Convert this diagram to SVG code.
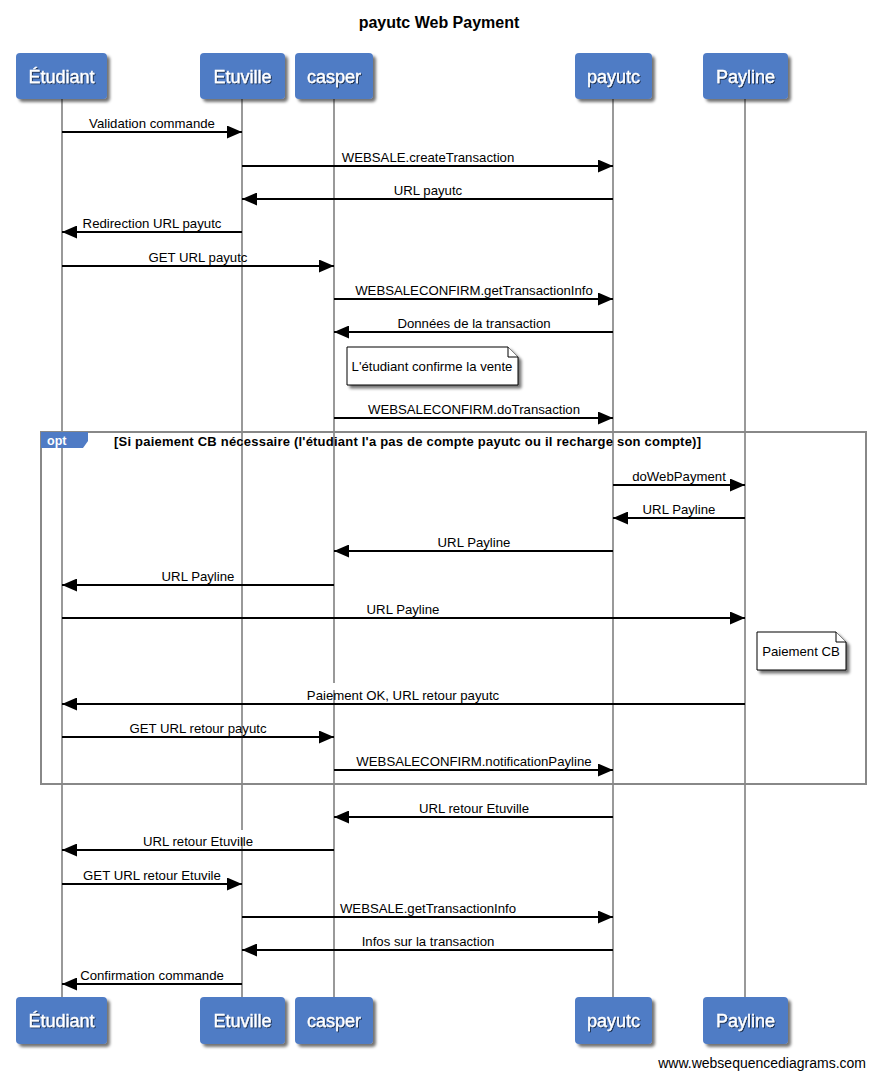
<svg xmlns="http://www.w3.org/2000/svg" width="877" height="1079" viewBox="0 0 877 1079">
<defs>
<filter id="sh" x="-20%" y="-20%" width="150%" height="150%">
<feGaussianBlur in="SourceAlpha" stdDeviation="1.6"/>
<feOffset dx="3" dy="3" result="b"/>
<feComponentTransfer><feFuncA type="linear" slope="0.55"/></feComponentTransfer>
<feMerge><feMergeNode/><feMergeNode in="SourceGraphic"/></feMerge>
</filter>
<filter id="tsh" x="-10%" y="-20%" width="130%" height="160%">
<feGaussianBlur in="SourceAlpha" stdDeviation="0.6"/>
<feOffset dx="1" dy="1"/>
<feComponentTransfer><feFuncA type="linear" slope="0.6"/></feComponentTransfer>
<feMerge><feMergeNode/><feMergeNode in="SourceGraphic"/></feMerge>
</filter>
<marker id="ah" markerWidth="15" markerHeight="13" refX="15" refY="6.5" orient="auto" markerUnits="userSpaceOnUse">
<path d="M0,0 L15,6.5 L0,13 Z" fill="#000"/>
</marker>
</defs>
<style>
.box{fill:#4f7bc5;}
.an{font-family:"Liberation Sans",Arial,sans-serif;font-size:18px;fill:#fff;text-anchor:middle;stroke:#fff;stroke-width:0.3;}
.life{stroke:#999;stroke-width:2;fill:none;}
.msg{stroke:#000;stroke-width:2;fill:none;marker-end:url(#ah);}
.lbl{font-family:"Liberation Sans",Arial,sans-serif;font-size:13.2px;fill:#000;text-anchor:middle;}
.note{fill:#fff;stroke:#000;stroke-width:1;}
.frame{fill:none;stroke:#888;stroke-width:2;}
</style>
<rect width="877" height="1079" fill="#fff"/>
<text x="439" y="28" font-family="Liberation Sans,Arial,sans-serif" font-size="16" font-weight="bold" text-anchor="middle">payutc Web Payment</text>

<g id="lifelines">
<line class="life" x1="62" y1="99" x2="62" y2="997"/>
<line class="life" x1="242" y1="99" x2="242" y2="997"/>
<line class="life" x1="334" y1="99" x2="334" y2="997"/>
<line class="life" x1="613" y1="99" x2="613" y2="997"/>
<line class="life" x1="745" y1="99" x2="745" y2="997"/>
</g>

<g id="opt">
<rect class="frame" x="41" y="432" width="825" height="352"/>
<path d="M41,432 H88 V441 L83,448 H41 Z" fill="#4f7bc5"/>
<text x="47" y="444.5" font-family="Liberation Sans,Arial,sans-serif" font-size="12.5" font-weight="bold" fill="#fff">opt</text>
<text x="114" y="446" font-family="Liberation Sans,Arial,sans-serif" font-size="13" font-weight="bold" textLength="587" lengthAdjust="spacing">[Si paiement CB nécessaire (l'étudiant l'a pas de compte payutc ou il recharge son compte)]</text>
</g>

<g id="connectors">
<line class="msg" x1="62" y1="132" x2="242" y2="132"/>
<text class="lbl" x="152" y="128">Validation commande</text>
<line class="msg" x1="242" y1="166" x2="613" y2="166"/>
<text class="lbl" x="428" y="162">WEBSALE.createTransaction</text>
<line class="msg" x1="613" y1="199" x2="242" y2="199"/>
<text class="lbl" x="428" y="195">URL payutc</text>
<line class="msg" x1="242" y1="232" x2="62" y2="232"/>
<text class="lbl" x="152" y="228">Redirection URL payutc</text>
<line class="msg" x1="62" y1="266" x2="334" y2="266"/>
<text class="lbl" x="198" y="262">GET URL payutc</text>
<line class="msg" x1="334" y1="299" x2="613" y2="299"/>
<text class="lbl" x="474" y="295">WEBSALECONFIRM.getTransactionInfo</text>
<line class="msg" x1="613" y1="332" x2="334" y2="332"/>
<text class="lbl" x="474" y="328">Données de la transaction</text>
<line class="msg" x1="334" y1="418" x2="613" y2="418"/>
<text class="lbl" x="474" y="414">WEBSALECONFIRM.doTransaction</text>
<line class="msg" x1="613" y1="485" x2="745" y2="485"/>
<text class="lbl" x="679" y="481">doWebPayment</text>
<line class="msg" x1="745" y1="518" x2="613" y2="518"/>
<text class="lbl" x="679" y="514">URL Payline</text>
<line class="msg" x1="613" y1="551" x2="334" y2="551"/>
<text class="lbl" x="474" y="547">URL Payline</text>
<line class="msg" x1="334" y1="585" x2="62" y2="585"/>
<text class="lbl" x="198" y="581">URL Payline</text>
<line class="msg" x1="62" y1="618" x2="745" y2="618"/>
<text class="lbl" x="403" y="614">URL Payline</text>
<line class="msg" x1="745" y1="704" x2="62" y2="704"/>
<rect x="300" y="683" width="206" height="7" fill="#fff"/>
<text class="lbl" x="403" y="700">Paiement OK, URL retour payutc</text>
<line class="msg" x1="62" y1="737" x2="334" y2="737"/>
<text class="lbl" x="198" y="733">GET URL retour payutc</text>
<line class="msg" x1="334" y1="770" x2="613" y2="770"/>
<text class="lbl" x="474" y="766">WEBSALECONFIRM.notificationPayline</text>
<line class="msg" x1="613" y1="817" x2="334" y2="817"/>
<text class="lbl" x="474" y="813">URL retour Etuville</text>
<line class="msg" x1="334" y1="850" x2="62" y2="850"/>
<rect x="138" y="830" width="120" height="8" fill="#fff"/>
<text class="lbl" x="198" y="846">URL retour Etuville</text>
<line class="msg" x1="62" y1="884" x2="242" y2="884"/>
<text class="lbl" x="152" y="880">GET URL retour Etuvile</text>
<line class="msg" x1="242" y1="917" x2="613" y2="917"/>
<text class="lbl" x="428" y="913">WEBSALE.getTransactionInfo</text>
<line class="msg" x1="613" y1="950" x2="242" y2="950"/>
<text class="lbl" x="428" y="946">Infos sur la transaction</text>
<line class="msg" x1="242" y1="984" x2="62" y2="984"/>
<text class="lbl" x="152" y="980">Confirmation commande</text>
</g>

<g id="note1">
<path class="note" filter="url(#sh)" d="M347,347 H508 L518,357 V385 H347 Z"/>
<path class="note" d="M508,347 V357 H518"/>
<text class="lbl" x="432" y="371">L'étudiant confirme la vente</text>
</g>
<g id="note2">
<path class="note" filter="url(#sh)" d="M757,632 H836 L846,642 V670 H757 Z"/>
<path class="note" d="M836,632 V642 H846"/>
<text class="lbl" x="801" y="656">Paiement CB</text>
</g>

<g id="actor-etudiant-top"><rect class="box" filter="url(#sh)" x="16" y="53" width="91" height="46" rx="4"/><text class="an" filter="url(#tsh)" x="61.5" y="83">Étudiant</text></g>
<g id="actor-etuville-top"><rect class="box" filter="url(#sh)" x="200" y="53" width="85" height="46" rx="4"/><text class="an" filter="url(#tsh)" x="242.5" y="83">Etuville</text></g>
<g id="actor-casper-top"><rect class="box" filter="url(#sh)" x="295" y="53" width="78" height="46" rx="4"/><text class="an" filter="url(#tsh)" x="334" y="83">casper</text></g>
<g id="actor-payutc-top"><rect class="box" filter="url(#sh)" x="575" y="53" width="77" height="46" rx="4"/><text class="an" filter="url(#tsh)" x="613.5" y="83">payutc</text></g>
<g id="actor-payline-top"><rect class="box" filter="url(#sh)" x="703" y="53" width="85" height="46" rx="4"/><text class="an" filter="url(#tsh)" x="745.5" y="83">Payline</text></g>

<g id="actor-etudiant-bottom"><rect class="box" filter="url(#sh)" x="16" y="997" width="91" height="47" rx="4"/><text class="an" filter="url(#tsh)" x="61.5" y="1027">Étudiant</text></g>
<g id="actor-etuville-bottom"><rect class="box" filter="url(#sh)" x="200" y="997" width="85" height="47" rx="4"/><text class="an" filter="url(#tsh)" x="242.5" y="1027">Etuville</text></g>
<g id="actor-casper-bottom"><rect class="box" filter="url(#sh)" x="295" y="997" width="78" height="47" rx="4"/><text class="an" filter="url(#tsh)" x="334" y="1027">casper</text></g>
<g id="actor-payutc-bottom"><rect class="box" filter="url(#sh)" x="575" y="997" width="77" height="47" rx="4"/><text class="an" filter="url(#tsh)" x="613.5" y="1027">payutc</text></g>
<g id="actor-payline-bottom"><rect class="box" filter="url(#sh)" x="703" y="997" width="85" height="47" rx="4"/><text class="an" filter="url(#tsh)" x="745.5" y="1027">Payline</text></g>

<text x="866" y="1068" font-family="Liberation Sans,Arial,sans-serif" font-size="14" text-anchor="end">www.websequencediagrams.com</text>
</svg>
